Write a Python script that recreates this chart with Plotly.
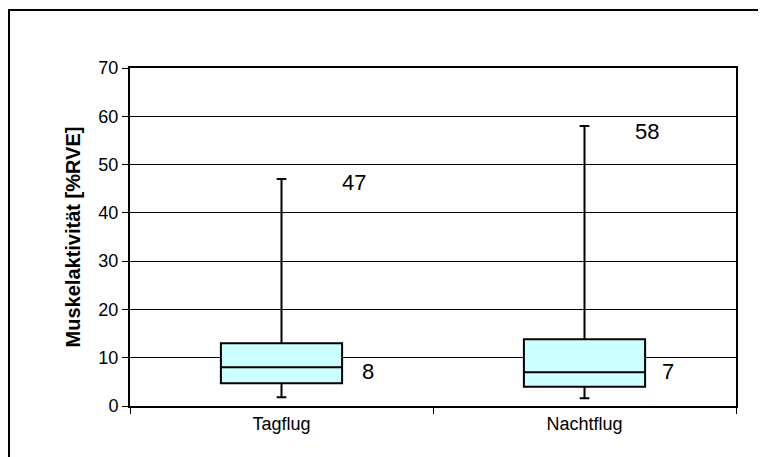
import plotly.graph_objects as go

categories = ["Tagflug", "Nachtflug"]
lower_whisker = [1.8, 1.6]
q1_values = [4.7, 4.0]
median_values = [8, 7]
q3_values = [13.0, 13.8]
upper_whisker = [47, 58]
y_ticks = [0, 10, 20, 30, 40, 50, 60, 70]

FONT = "Liberation Sans, Arial, sans-serif"

fig = go.Figure()
fig.add_trace(go.Box(
    x=categories,
    q1=q1_values,
    median=median_values,
    q3=q3_values,
    lowerfence=lower_whisker,
    upperfence=upper_whisker,
    fillcolor="#CCFFFF",
    line=dict(color="black", width=2),
    whiskerwidth=0.08,
    width=0.4,
    boxpoints=False,
    hoverinfo="skip",
    showlegend=False,
))

# value labels (median and maximum)
med_shift = [(86, -4), (83, 1)]
max_shift = [(72, -3), (62, -6)]
for i, c in enumerate(categories):
    fig.add_annotation(x=c, y=median_values[i], text=str(median_values[i]),
                       showarrow=False, xshift=med_shift[i][0], yshift=med_shift[i][1],
                       font=dict(family=FONT, size=22, color="black"))
    fig.add_annotation(x=c, y=upper_whisker[i], text=str(upper_whisker[i]),
                       showarrow=False, xshift=max_shift[i][0], yshift=max_shift[i][1],
                       font=dict(family=FONT, size=22, color="black"))

# outer chart border (figure px -> paper coords; plot area 122..728 x 60..398)
PL, PW, PB, PH = 122, 606, 398, 338
fig.add_shape(type="rect", xref="paper", yref="paper",
              x0=(1 - PL) / PW, x1=(790 - PL) / PW,
              y0=(PB - 480) / PH, y1=(PB - 2) / PH,
              line=dict(color="black", width=2), fillcolor="rgba(0,0,0,0)", layer="below")

fig.update_layout(
    width=766, height=457,
    margin=dict(l=122, r=38, t=60, b=59),
    paper_bgcolor="white",
    plot_bgcolor="white",
    font=dict(family=FONT, size=18, color="black"),
)
fig.update_xaxes(
    type="category",
    range=[-0.5, 1.5],
    showline=True, linecolor="black", linewidth=2, mirror=True,
    ticks="outside", tickson="boundaries", ticklen=6, tickcolor="black", tickwidth=1,
    showgrid=False,
    tickfont=dict(family=FONT, size=18, color="black"),
)
fig.update_yaxes(
    range=[0, 70],
    tickvals=y_ticks,
    showline=True, linecolor="black", linewidth=2, mirror=True,
    ticks="outside", ticklen=6, tickcolor="black", tickwidth=1,
    showgrid=True, gridcolor="black", gridwidth=1,
    zeroline=False,
    tickfont=dict(family=FONT, size=18, color="black"),
    title=dict(text="<b>Muskelaktivität [%RVE]</b>", font=dict(family=FONT, size=20, color="black"),
               standoff=12),
)

fig.write_html("out.html")
